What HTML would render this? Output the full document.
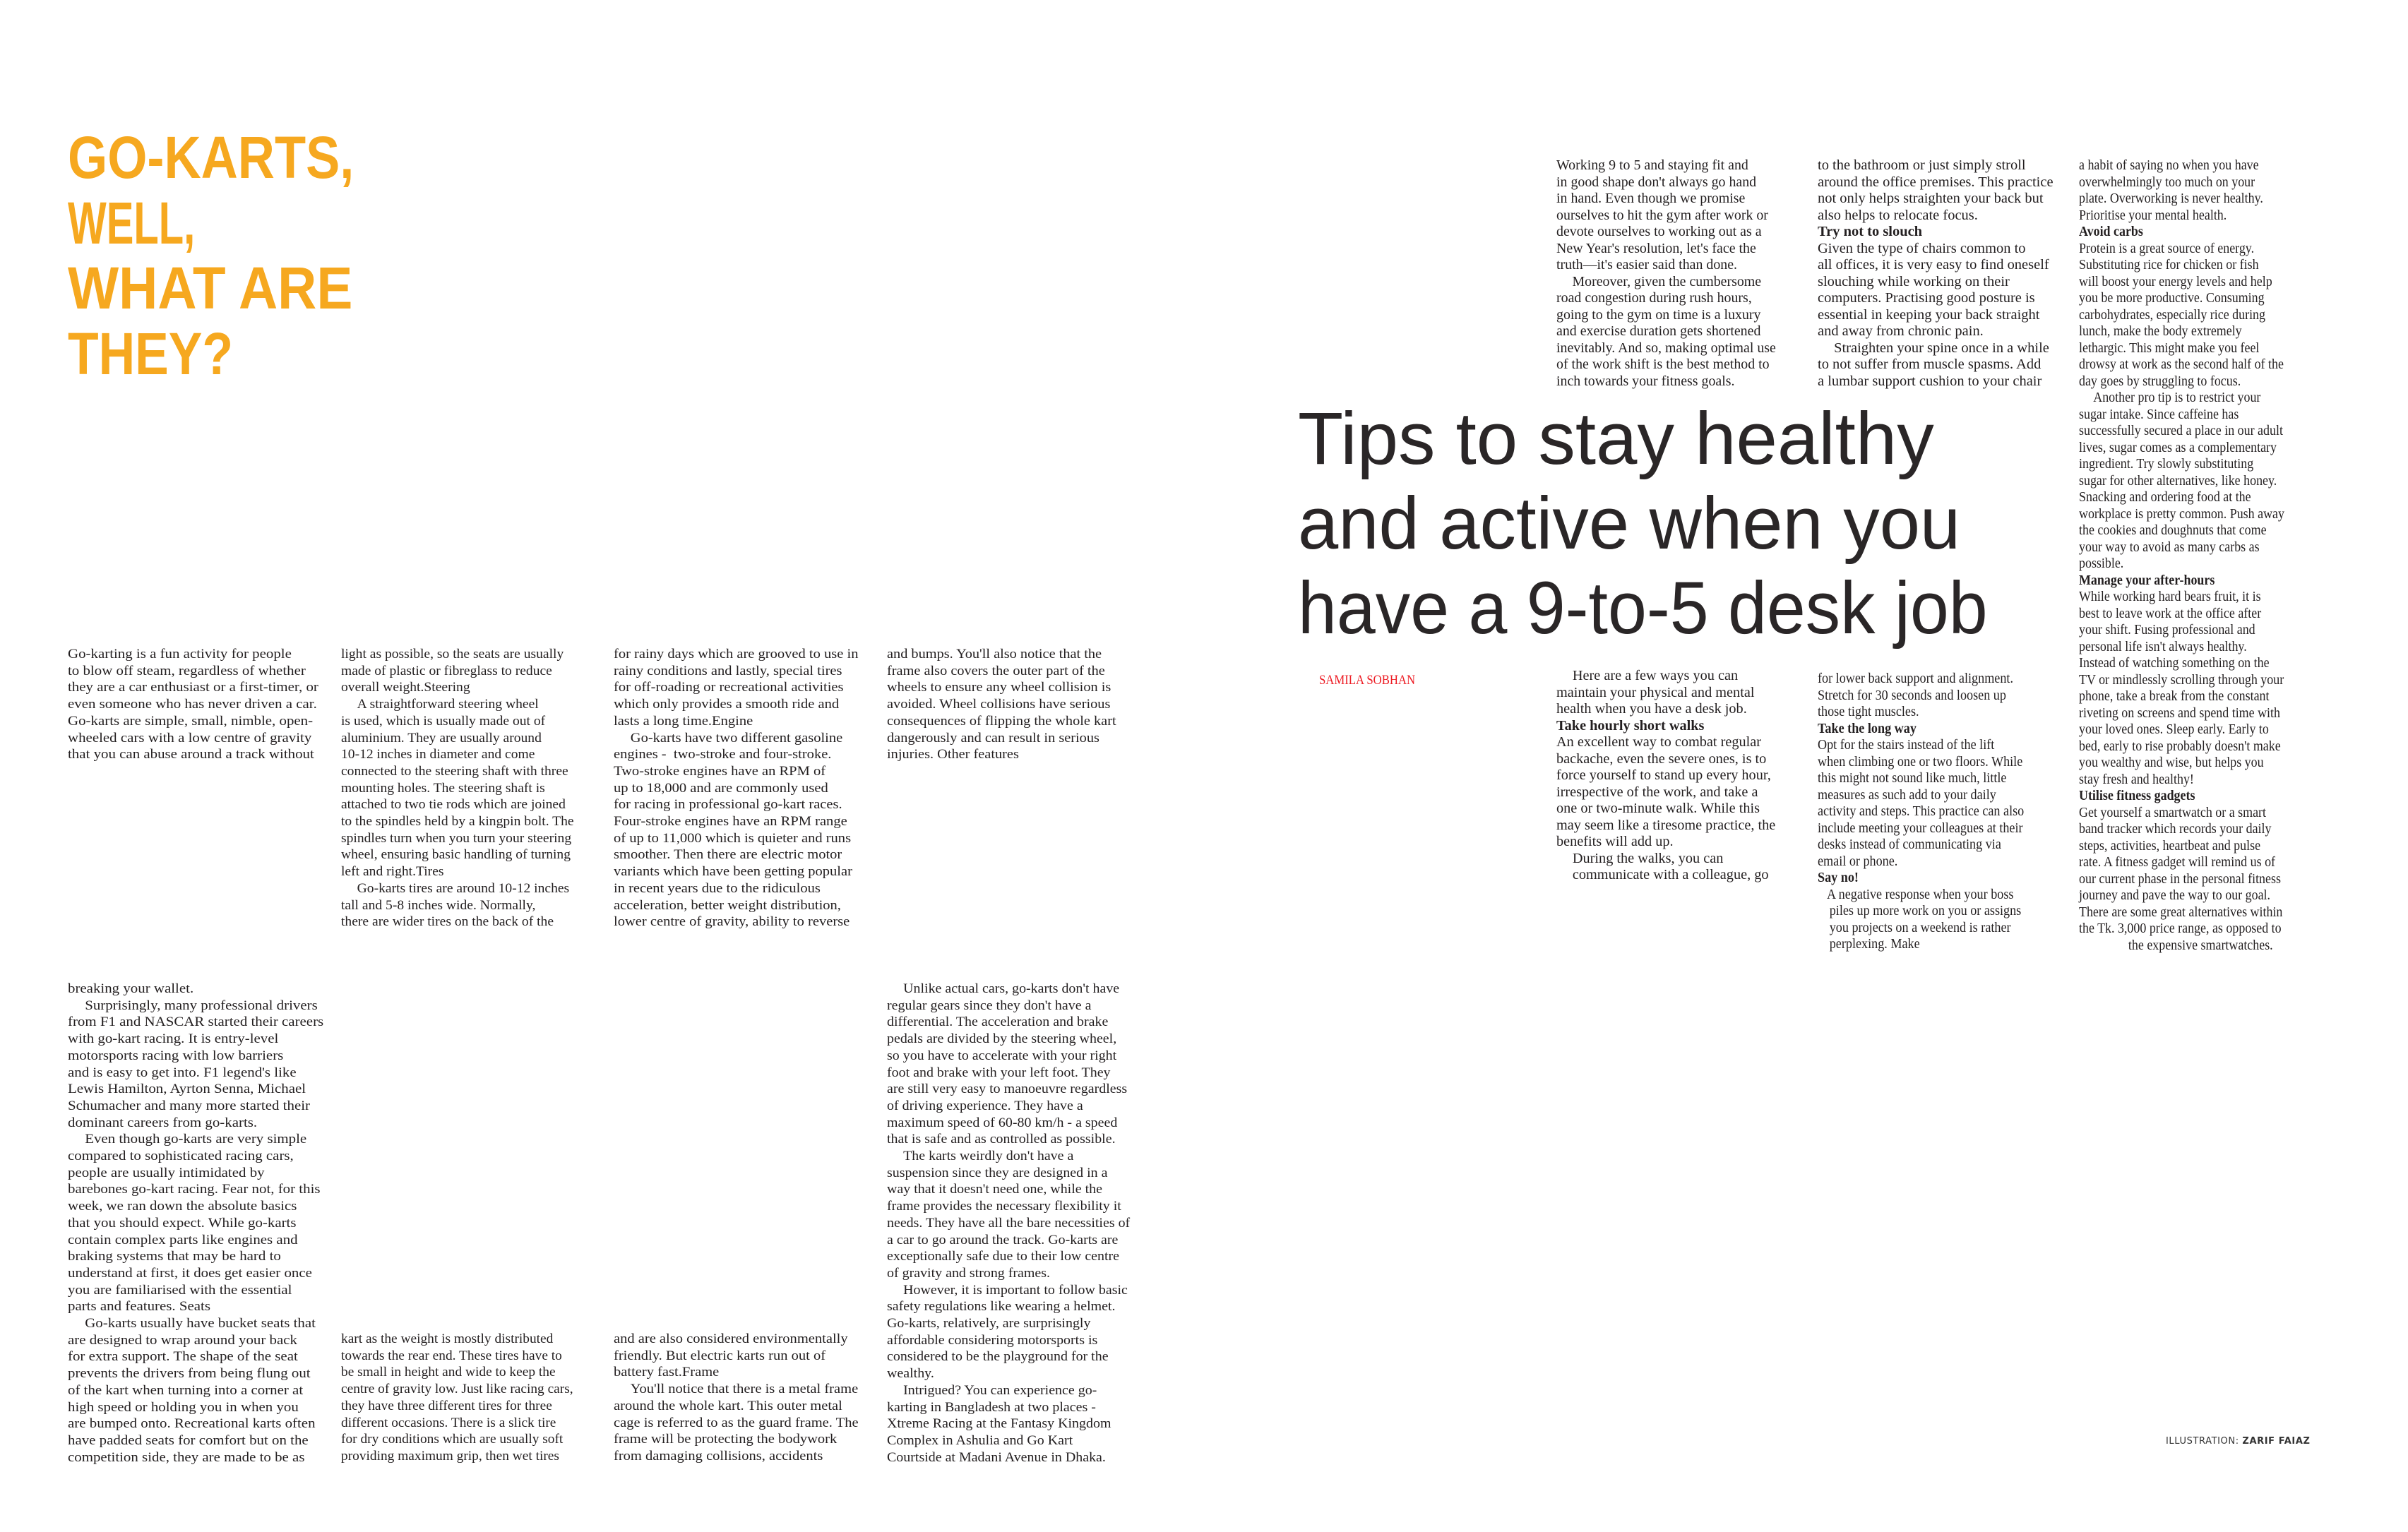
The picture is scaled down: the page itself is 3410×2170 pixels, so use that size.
<!DOCTYPE html>
<html><head><meta charset="utf-8">
<style>
html,body{margin:0;padding:0;background:#fff;}
body{width:3410px;height:2170px;position:relative;overflow:hidden;}
.t{position:absolute;font-family:"Liberation Sans",sans-serif;font-weight:bold;color:#f6a81f;font-size:84px;line-height:84px;white-space:nowrap;transform-origin:0 0;}
.h{position:absolute;font-family:"Liberation Sans",sans-serif;color:#2a2627;font-size:105px;line-height:105px;white-space:nowrap;transform-origin:0 0;}
.c{position:absolute;font-family:"Liberation Serif",serif;color:#231f20;font-size:19px;line-height:23.7px;white-space:nowrap;transform-origin:0 0;}
.R{font-size:19.5px;line-height:23.5px;}
.i{display:inline-block;width:22px;}
b{font-weight:bold;}
</style></head><body>

<div class="t" style="left:96px;top:181px;transform:scaleX(0.86)">GO-KARTS,</div>
<div class="t" style="left:96px;top:274px;transform:scaleX(0.69)">WELL,</div>
<div class="t" style="left:96px;top:366px;transform:scaleX(0.91)">WHAT ARE</div>
<div class="t" style="left:96px;top:459px;transform:scaleX(0.85)">THEY?</div>

<div class="c" style="left:96px;top:915px;transform:scaleX(1.1)">Go-karting is a fun activity for people<br>to blow off steam, regardless of whether<br>they are a car enthusiast or a first-timer, or<br>even someone who has never driven a car.<br>Go-karts are simple, small, nimble, open-<br>wheeled cars with a low centre of gravity<br>that you can abuse around a track without</div>

<div class="c" style="left:483px;top:915px;transform:scaleX(1.03)">light as possible, so the seats are usually<br>made of plastic or fibreglass to reduce<br>overall weight.Steering<br><span class="i"></span>A straightforward steering wheel<br>is used, which is usually made out of<br>aluminium. They are usually around<br>10-12 inches in diameter and come<br>connected to the steering shaft with three<br>mounting holes. The steering shaft is<br>attached to two tie rods which are joined<br>to the spindles held by a kingpin bolt. The<br>spindles turn when you turn your steering<br>wheel, ensuring basic handling of turning<br>left and right.Tires<br><span class="i"></span>Go-karts tires are around 10-12 inches<br>tall and 5-8 inches wide. Normally,<br>there are wider tires on the back of the</div>

<div class="c" style="left:869px;top:915px;transform:scaleX(1.08)">for rainy days which are grooved to use in<br>rainy conditions and lastly, special tires<br>for off-roading or recreational activities<br>which only provides a smooth ride and<br>lasts a long time.Engine<br><span class="i"></span>Go-karts have two different gasoline<br>engines -&nbsp; two-stroke and four-stroke.<br>Two-stroke engines have an RPM of<br>up to 18,000 and are commonly used<br>for racing in professional go-kart races.<br>Four-stroke engines have an RPM range<br>of up to 11,000 which is quieter and runs<br>smoother. Then there are electric motor<br>variants which have been getting popular<br>in recent years due to the ridiculous<br>acceleration, better weight distribution,<br>lower centre of gravity, ability to reverse</div>

<div class="c" style="left:1256px;top:915px;transform:scaleX(1.07)">and bumps. You'll also notice that the<br>frame also covers the outer part of the<br>wheels to ensure any wheel collision is<br>avoided. Wheel collisions have serious<br>consequences of flipping the whole kart<br>dangerously and can result in serious<br>injuries. Other features</div>

<div class="c" style="left:96px;top:1389px;transform:scaleX(1.1)">breaking your wallet.<br><span class="i"></span>Surprisingly, many professional drivers<br>from F1 and NASCAR started their careers<br>with go-kart racing. It is entry-level<br>motorsports racing with low barriers<br>and is easy to get into. F1 legend's like<br>Lewis Hamilton, Ayrton Senna, Michael<br>Schumacher and many more started their<br>dominant careers from go-karts.<br><span class="i"></span>Even though go-karts are very simple<br>compared to sophisticated racing cars,<br>people are usually intimidated by<br>barebones go-kart racing. Fear not, for this<br>week, we ran down the absolute basics<br>that you should expect. While go-karts<br>contain complex parts like engines and<br>braking systems that may be hard to<br>understand at first, it does get easier once<br>you are familiarised with the essential<br>parts and features. Seats<br><span class="i"></span>Go-karts usually have bucket seats that<br>are designed to wrap around your back<br>for extra support. The shape of the seat<br>prevents the drivers from being flung out<br>of the kart when turning into a corner at<br>high speed or holding you in when you<br>are bumped onto. Recreational karts often<br>have padded seats for comfort but on the<br>competition side, they are made to be as</div>

<div class="c" style="left:483px;top:1885px;transform:scaleX(1.02)">kart as the weight is mostly distributed<br>towards the rear end. These tires have to<br>be small in height and wide to keep the<br>centre of gravity low. Just like racing cars,<br>they have three different tires for three<br>different occasions. There is a slick tire<br>for dry conditions which are usually soft<br>providing maximum grip, then wet tires</div>

<div class="c" style="left:869px;top:1885px;transform:scaleX(1.08)">and are also considered environmentally<br>friendly. But electric karts run out of<br>battery fast.Frame<br><span class="i"></span>You'll notice that there is a metal frame<br>around the whole kart. This outer metal<br>cage is referred to as the guard frame. The<br>frame will be protecting the bodywork<br>from damaging collisions, accidents</div>

<div class="c" style="left:1256px;top:1389px;transform:scaleX(1.05)"><span class="i"></span>Unlike actual cars, go-karts don't have<br>regular gears since they don't have a<br>differential. The acceleration and brake<br>pedals are divided by the steering wheel,<br>so you have to accelerate with your right<br>foot and brake with your left foot. They<br>are still very easy to manoeuvre regardless<br>of driving experience. They have a<br>maximum speed of 60-80 km/h - a speed<br>that is safe and as controlled as possible.<br><span class="i"></span>The karts weirdly don't have a<br>suspension since they are designed in a<br>way that it doesn't need one, while the<br>frame provides the necessary flexibility it<br>needs. They have all the bare necessities of<br>a car to go around the track. Go-karts are<br>exceptionally safe due to their low centre<br>of gravity and strong frames.<br><span class="i"></span>However, it is important to follow basic<br>safety regulations like wearing a helmet.<br>Go-karts, relatively, are surprisingly<br>affordable considering motorsports is<br>considered to be the playground for the<br>wealthy.<br><span class="i"></span>Intrigued? You can experience go-<br>karting in Bangladesh at two places -<br>Xtreme Racing at the Fantasy Kingdom<br>Complex in Ashulia and Go Kart<br>Courtside at Madani Avenue in Dhaka.</div>

<div class="h" style="left:1838px;top:569px;transform:scaleX(1.0)">Tips to stay healthy</div>
<div class="h" style="left:1838px;top:689px;transform:scaleX(0.98)">and active when you</div>
<div class="h" style="left:1838px;top:809px;transform:scaleX(0.94)">have a 9-to-5 desk job</div>

<div style="position:absolute;left:1868px;top:953px;font-family:'Liberation Serif',serif;font-size:19px;color:#ed1c24;white-space:nowrap;transform:scaleX(0.88);transform-origin:0 0;">SAMILA SOBHAN</div>

<div class="c R" style="left:2204px;top:223px;transform:scaleX(1.02)">Working 9 to 5 and staying fit and<br>in good shape don't always go hand<br>in hand. Even though we promise<br>ourselves to hit the gym after work or<br>devote ourselves to working out as a<br>New Year's resolution, let's face the<br>truth—it's easier said than done.<br><span class="i"></span>Moreover, given the cumbersome<br>road congestion during rush hours,<br>going to the gym on time is a luxury<br>and exercise duration gets shortened<br>inevitably. And so, making optimal use<br>of the work shift is the best method to<br>inch towards your fitness goals.</div>

<div class="c R" style="left:2204px;top:946px;transform:scaleX(1.04)"><span class="i"></span>Here are a few ways you can<br>maintain your physical and mental<br>health when you have a desk job.<br><b>Take hourly short walks</b><br>An excellent way to combat regular<br>backache, even the severe ones, is to<br>force yourself to stand up every hour,<br>irrespective of the work, and take a<br>one or two-minute walk. While this<br>may seem like a tiresome practice, the<br>benefits will add up.<br><span class="i"></span>During the walks, you can<br><span class="i"></span>communicate with a colleague, go</div>

<div class="c R" style="left:2574px;top:223px;transform:scaleX(1.05)">to the bathroom or just simply stroll<br>around the office premises. This practice<br>not only helps straighten your back but<br>also helps to relocate focus.<br><b>Try not to slouch</b><br>Given the type of chairs common to<br>all offices, it is very easy to find oneself<br>slouching while working on their<br>computers. Practising good posture is<br>essential in keeping your back straight<br>and away from chronic pain.<br><span class="i"></span>Straighten your spine once in a while<br>to not suffer from muscle spasms. Add<br>a lumbar support cushion to your chair</div>

<div class="c R" style="left:2574px;top:950px;transform:scaleX(0.93)">for lower back support and alignment.<br>Stretch for 30 seconds and loosen up<br>those tight muscles.<br><b>Take the long way</b><br>Opt for the stairs instead of the lift<br>when climbing one or two floors. While<br>this might not sound like much, little<br>measures as such add to your daily<br>activity and steps. This practice can also<br>include meeting your colleagues at their<br>desks instead of communicating via<br>email or phone.<br><b>Say no!</b><br><span class="i" style="width:14px"></span>A negative response when your boss<br><span class="i" style="width:18px"></span>piles up more work on you or assigns<br><span class="i" style="width:18px"></span>you projects on a weekend is rather<br><span class="i" style="width:18px"></span>perplexing. Make</div>

<div class="c R" style="left:2944px;top:223px;transform:scaleX(0.92)">a habit of saying no when you have<br>overwhelmingly too much on your<br>plate. Overworking is never healthy.<br>Prioritise your mental health.<br><b>Avoid carbs</b><br>Protein is a great source of energy.<br>Substituting rice for chicken or fish<br>will boost your energy levels and help<br>you be more productive. Consuming<br>carbohydrates, especially rice during<br>lunch, make the body extremely<br>lethargic. This might make you feel<br>drowsy at work as the second half of the<br>day goes by struggling to focus.<br><span class="i"></span>Another pro tip is to restrict your<br>sugar intake. Since caffeine has<br>successfully secured a place in our adult<br>lives, sugar comes as a complementary<br>ingredient. Try slowly substituting<br>sugar for other alternatives, like honey.<br>Snacking and ordering food at the<br>workplace is pretty common. Push away<br>the cookies and doughnuts that come<br>your way to avoid as many carbs as<br>possible.<br><b>Manage your after-hours</b><br>While working hard bears fruit, it is<br>best to leave work at the office after<br>your shift. Fusing professional and<br>personal life isn't always healthy.<br>Instead of watching something on the<br>TV or mindlessly scrolling through your<br>phone, take a break from the constant<br>riveting on screens and spend time with<br>your loved ones. Sleep early. Early to<br>bed, early to rise probably doesn't make<br>you wealthy and wise, but helps you<br>stay fresh and healthy!<br><b>Utilise fitness gadgets</b><br>Get yourself a smartwatch or a smart<br>band tracker which records your daily<br>steps, activities, heartbeat and pulse<br>rate. A fitness gadget will remind us of<br>our current phase in the personal fitness<br>journey and pave the way to our goal.<br>There are some great alternatives within<br>the Tk. 3,000 price range, as opposed to<br><span class="i" style="width:76px"></span>the expensive smartwatches.</div>

<div style="position:absolute;left:3067px;top:2034px;font-family:'DejaVu Sans',sans-serif;font-size:13px;color:#333;letter-spacing:0.6px;white-space:nowrap;">ILLUSTRATION: <b>ZARIF FAIAZ</b></div>

</body></html>
